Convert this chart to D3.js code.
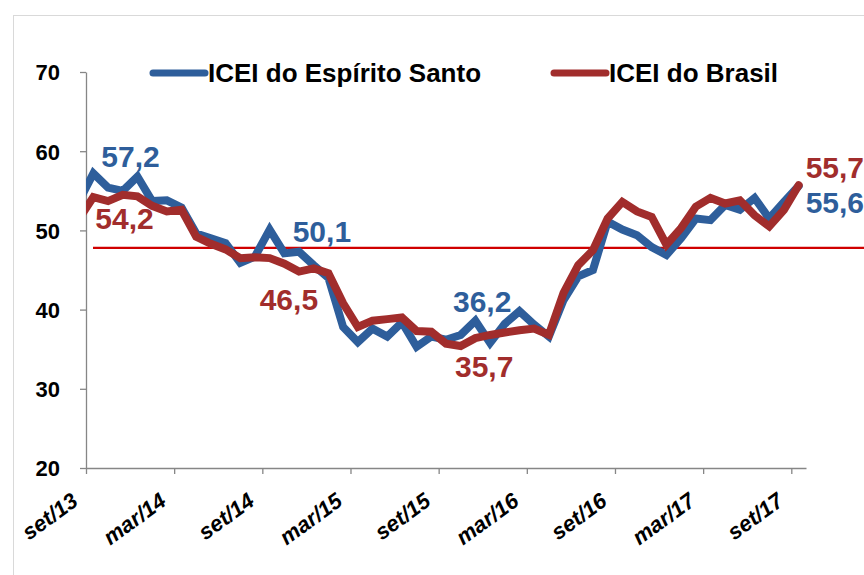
<!DOCTYPE html>
<html>
<head>
<meta charset="utf-8">
<script src="https://cdn.jsdelivr.net/npm/d3@7"></script>
<style>
  body { margin: 0; background: #fff; }
  text { font-family: "Liberation Sans", Arial, sans-serif; font-weight: bold; }
</style>
</head>
<body>
<div id="chart"></div>
<script>
// Data (first month sits just left of the plot and is clipped, as in the original)
const months = ["ago/13","set/13","out/13","nov/13","dez/13","jan/14","fev/14","mar/14","abr/14","mai/14",
  "jun/14","jul/14","ago/14","set/14","out/14","nov/14","dez/14","jan/15","fev/15","mar/15",
  "abr/15","mai/15","jun/15","jul/15","ago/15","set/15","out/15","nov/15","dez/15","jan/16",
  "fev/16","mar/16","abr/16","mai/16","jun/16","jul/16","ago/16","set/16","out/16","nov/16",
  "dez/16","jan/17","fev/17","mar/17","abr/17","mai/17","jun/17","jul/17","ago/17","set/17"];
const iceiES = [53.6,57.2,55.4,55.0,56.8,53.7,53.8,52.9,49.6,49.0,
  48.4,45.9,46.7,50.1,47.1,47.3,45.6,44.0,37.8,35.9,
  37.6,36.6,38.4,35.3,36.6,36.2,36.8,38.6,35.8,38.2,
  39.8,38.1,36.6,41.2,44.2,45.0,51.1,50.1,49.4,47.9,
  46.9,49.0,51.5,51.3,53.2,52.6,54.1,51.5,53.6,55.6];
const iceiBR = [51.4,54.2,53.7,54.5,54.3,53.1,52.4,52.6,49.2,48.3,
  47.6,46.5,46.6,46.5,45.8,44.8,45.2,44.6,40.8,37.8,
  38.6,38.8,39.0,37.3,37.2,35.7,35.4,36.4,36.8,37.1,
  37.4,37.6,36.8,42.1,45.6,47.5,51.5,53.6,52.4,51.7,
  48.2,50.3,53.0,54.1,53.4,53.8,51.9,50.5,52.6,55.7];
const tickLabels = ["set/13","mar/14","set/14","mar/15","set/15","mar/16","set/16","mar/17","set/17"];
const yTicks = [20, 30, 40, 50, 60, 70];
const refLine = 47.8;
const labelIdx = [1, 13, 25, 49];   // set of each year gets a value label
const seriesNames = ["ICEI do Espírito Santo", "ICEI do Brasil"];

// Layout
const width = 864, height = 575;
const blue = "#2E5E9B", red = "#A12D2C", axisCol = "#868686";
const plotL = 86, plotR = 806, plotT = 72, plotB = 468;

const svg = d3.select("#chart").append("svg").attr("width", width).attr("height", height);
svg.append("rect").attr("width", width).attr("height", height).attr("fill", "#fff");
// outer chart border
svg.append("rect").attr("x", 13.5).attr("y", 15.5).attr("width", 900).attr("height", 700)
  .attr("fill", "none").attr("stroke", "#D9D9D9");

const x = d3.scaleLinear().domain([0.5, months.length - 0.5]).range([plotL, plotR]);
const y = d3.scaleLinear().domain([20, 70]).range([plotB, plotT]);

const defs = svg.append("defs");
defs.append("clipPath").attr("id", "plot").append("rect")
  .attr("x", plotL).attr("y", 0).attr("width", width - plotL).attr("height", height);
defs.append("filter").attr("id", "blur").append("feGaussianBlur").attr("stdDeviation", 1.6);

// Y axis
const yAxis = svg.append("g").attr("transform", `translate(${plotL},0)`)
  .call(d3.axisLeft(y).tickValues(yTicks).tickSize(6).tickPadding(20).tickSizeOuter(0));
yAxis.select(".domain").attr("stroke", axisCol).attr("stroke-width", 1.3);
yAxis.selectAll(".tick line").attr("stroke", axisCol).attr("stroke-width", 1.3);
yAxis.selectAll("text").attr("font-size", 22).attr("fill", "#000").attr("dy", "0.36em")
  .style("font-family", "'Liberation Sans', Arial, sans-serif");

// X axis
const xAxis = svg.append("g").attr("transform", `translate(0,${plotB})`)
  .call(d3.axisBottom(x).tickValues(tickLabels.map((d, j) => 0.5 + 6 * j))
    .tickFormat((d, j) => tickLabels[j]).tickSize(6).tickSizeOuter(0));
xAxis.select(".domain").attr("stroke", axisCol).attr("stroke-width", 1.3);
xAxis.selectAll(".tick line").attr("stroke", axisCol).attr("stroke-width", 1.3);
xAxis.selectAll("text").attr("font-size", 22).attr("fill", "#000")
  .attr("x", 0).attr("y", 0).attr("dy", 0)
  .attr("transform", "translate(-7,36) rotate(-36)")
  .style("text-anchor", "end")
  .style("font-style", "italic")
  .style("font-family", "'Liberation Sans', Arial, sans-serif");

// Reference line with soft shadow
svg.append("line").attr("x1", 93).attr("x2", width).attr("y1", y(refLine) + 3).attr("y2", y(refLine) + 3)
  .attr("stroke", "#bbb").attr("stroke-width", 3).attr("filter", "url(#blur)");
svg.append("line").attr("x1", 93).attr("x2", width).attr("y1", y(refLine)).attr("y2", y(refLine))
  .attr("stroke", "#D00000").attr("stroke-width", 2.2);

// Lines
const line = d3.line().x((d, i) => x(i)).y(d => y(d));
const plot = svg.append("g").attr("clip-path", "url(#plot)");
[[iceiES, blue], [iceiBR, red]].forEach(([vals, col]) => {
  plot.append("path").datum(vals).attr("d", line)
    .attr("fill", "none").attr("stroke", col).attr("stroke-width", 8)
    .attr("stroke-linejoin", "miter").attr("stroke-linecap", "round");
});

// Value labels (offset from each point, as placed in the original)
const fmt = v => d3.format(".1f")(v).replace(".", ",");
const esOffsets = [[8, -6], [23, 12], [7, -28], [7, 27]];
const brOffsets = [[2, 32], [-10, 52], [9, 33], [7, -7]];
const labels = svg.append("g").attr("font-size", 30);
labelIdx.forEach((k, j) => {
  labels.append("text").attr("x", x(k) + esOffsets[j][0]).attr("y", y(iceiES[k]) + esOffsets[j][1])
    .attr("fill", blue).text(fmt(iceiES[k]));
  labels.append("text").attr("x", x(k) + brOffsets[j][0]).attr("y", y(iceiBR[k]) + brOffsets[j][1])
    .attr("fill", red).text(fmt(iceiBR[k]));
});

// Legend
const legend = svg.append("g");
[[153, blue], [554, red]].forEach(([lx, col], i) => {
  legend.append("line").attr("x1", lx).attr("x2", lx + 52).attr("y1", 73).attr("y2", 73)
    .attr("stroke", col).attr("stroke-width", 7).attr("stroke-linecap", "round");
  legend.append("text").attr("x", lx + 55).attr("y", 82).attr("font-size", 26)
    .attr("fill", "#000").text(seriesNames[i]);
});
</script>
</body>
</html>
